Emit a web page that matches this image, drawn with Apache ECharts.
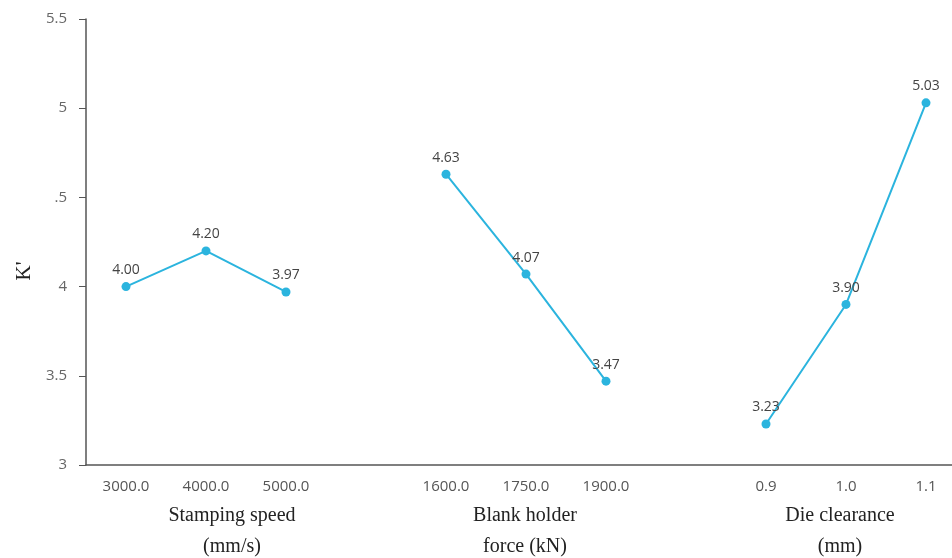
<!DOCTYPE html>
<html>
<head>
<meta charset="utf-8">
<script src="https://cdn.jsdelivr.net/npm/echarts@6/dist/echarts.min.js"></script>
<style>html,body{margin:0;padding:0;background:#fff;}#main{width:952px;height:558px;}</style>
</head>
<body>
<div id="main"></div>
<script>
// categories (gap slots separate the three factor groups)
const categories = ['3000.0','4000.0','5000.0','','1600.0','1750.0','1900.0','','0.9','1.0','1.1'];
const speedCats = ['3000.0','4000.0','5000.0'];
const speedValues = [4.00, 4.20, 3.97];
const forceCats = ['1600.0','1750.0','1900.0'];
const forceValues = [4.63, 4.07, 3.47];
const clearanceCats = ['0.9','1.0','1.1'];
const clearanceValues = [3.23, 3.90, 5.03];
const yTickValues = [3, 3.5, 4, 4.5, 5, 5.5];
const yTickLabels = ['3', '3.5', '4', '.5', '5', '5.5'];
const groupTitles = ['Stamping speed\n(mm/s)', 'Blank holder\nforce (kN)', 'Die clearance\n(mm)'];
const yName = "K'";

const catIndex = c => categories.indexOf(c);
const labelPositions = categories.map((c, i) => i).filter(i => categories[i] !== '');

const lineColor = '#2bb4de';
function mkSeries(cats, vals) {
  return {
    type: 'line',
    data: cats.map((c, i) => [catIndex(c), vals[i]]),
    symbol: 'circle',
    symbolSize: 9,
    lineStyle: { color: lineColor, width: 2 },
    itemStyle: { color: lineColor },
    label: {
      show: true, position: 'top', distance: 5,
      formatter: p => p.value[1].toFixed(2),
      fontFamily: 'Open Sans', fontSize: 14, color: '#444'
    },
    z: 3
  };
}

const titleFont = '20px "Liberation Serif"';
const chart = echarts.init(document.getElementById('main'));
chart.setOption({
  animation: false,
  backgroundColor: '#fff',
  grid: { left: 86, right: 0, top: 19, bottom: 93, containLabel: false },
  xAxis: {
    type: 'value',
    min: -0.5, max: 10.325,
    axisLine: { show: true, onZero: false, lineStyle: { color: '#555', width: 1.5 } },
    axisTick: { show: false },
    axisLabel: {
      customValues: labelPositions,
      margin: 14,
      fontFamily: 'Open Sans', fontSize: 15, color: '#555',
      formatter: v => categories[Math.round(v)] || ''
    },
    splitLine: { show: false }
  },
  yAxis: {
    type: 'value',
    min: 3, max: 5.5, interval: 0.5,
    axisLine: { show: true, onZero: false, lineStyle: { color: '#555', width: 1.5 } },
    axisTick: { show: true, inside: false, length: 7, lineStyle: { color: '#555' } },
    axisLabel: {
      margin: 19,
      fontFamily: 'Open Sans', fontSize: 15, color: '#666',
      formatter: v => {
        const i = yTickValues.findIndex(t => Math.abs(t - v) < 1e-9);
        return i >= 0 ? yTickLabels[i] : '';
      }
    },
    splitLine: { show: false }
  },
  series: [
    mkSeries(speedCats, speedValues),
    mkSeries(forceCats, forceValues),
    mkSeries(clearanceCats, clearanceValues)
  ],
  graphic: [
    { type: 'text', x: 24, y: 271, rotation: Math.PI / 2, style: { text: yName, font: '21px "Liberation Serif"', fill: '#222', align: 'center', verticalAlign: 'middle' } },
    { type: 'text', x: 232, y: 500, style: { text: groupTitles[0], font: titleFont, fill: '#222', align: 'center', verticalAlign: 'top', lineHeight: 31 } },
    { type: 'text', x: 525, y: 500, style: { text: groupTitles[1], font: titleFont, fill: '#222', align: 'center', verticalAlign: 'top', lineHeight: 31 } },
    { type: 'text', x: 840, y: 500, style: { text: groupTitles[2], font: titleFont, fill: '#222', align: 'center', verticalAlign: 'top', lineHeight: 31 } }
  ]
});
</script>
</body>
</html>
